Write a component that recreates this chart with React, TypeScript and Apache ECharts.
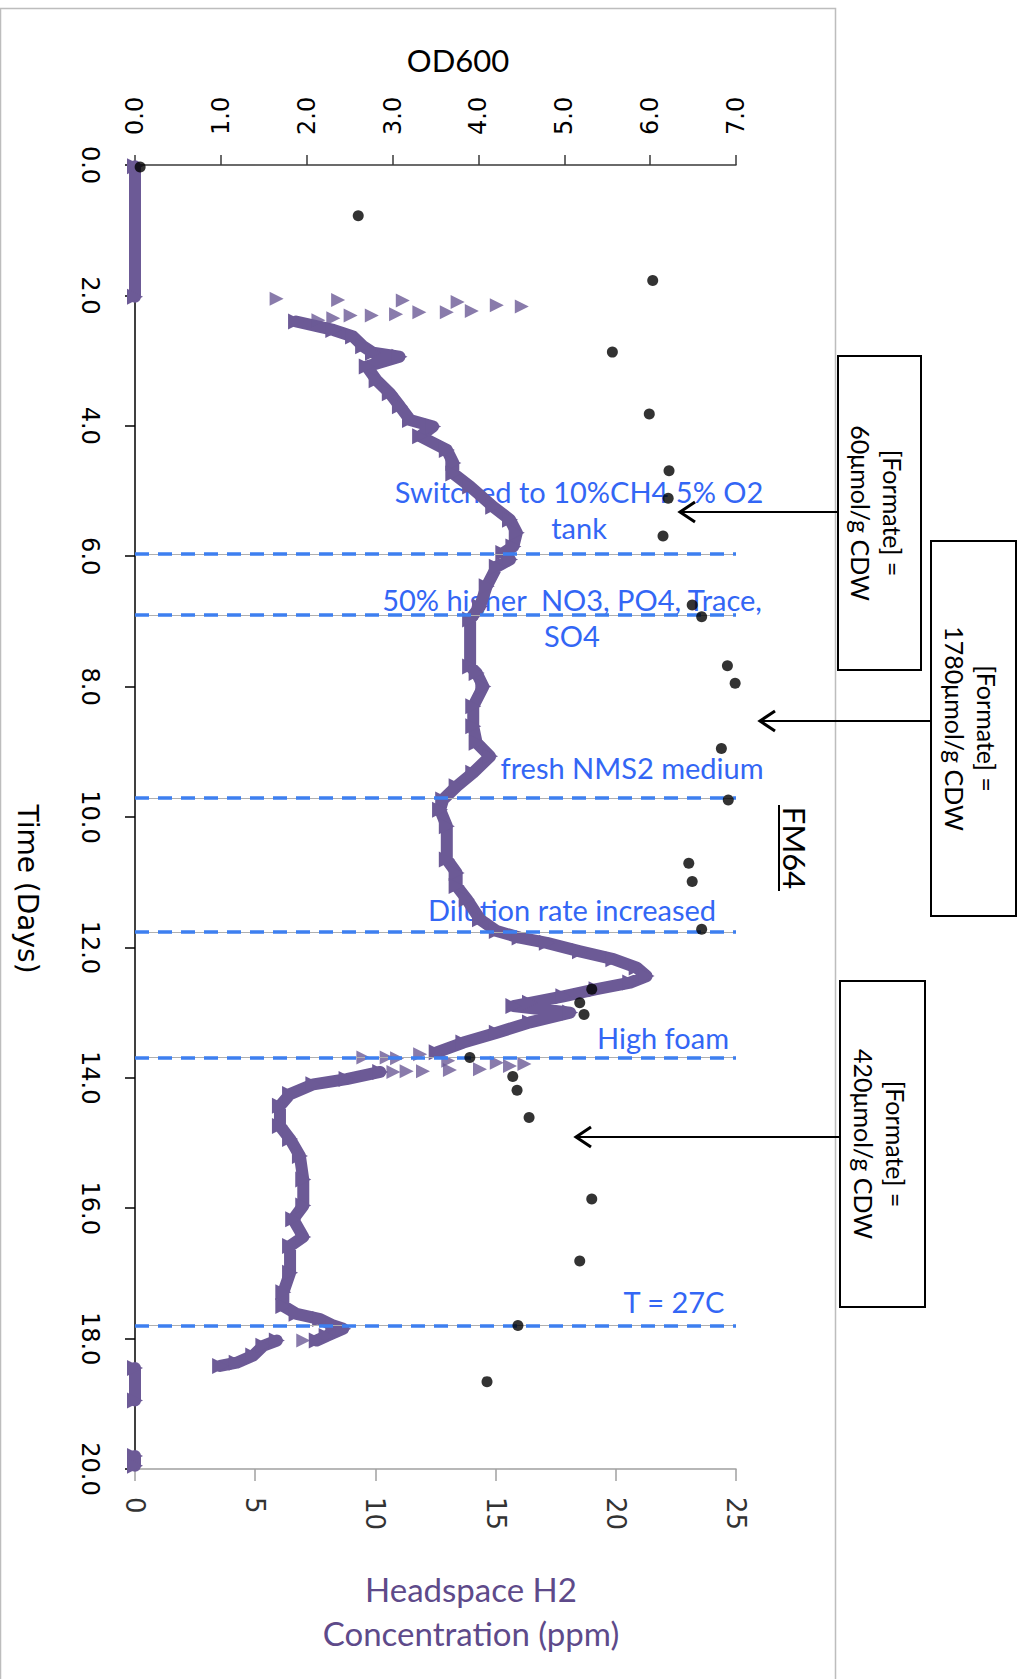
import React, { useEffect, useRef } from "react";
import * as echarts from "echarts";

// ---- OD600 samples (black dots) ----
const odDays = [0.03, 0.78, 1.77, 2.87, 3.82, 4.69, 5.11, 5.69, 6.75, 6.93, 7.68, 7.95, 8.95, 9.74, 10.71, 10.99, 11.72, 12.64, 12.85, 13.03, 13.69, 13.98, 14.19, 14.61, 15.86, 16.81, 17.8, 18.66];
const od600 = [0.06, 2.6, 6.03, 5.56, 5.99, 6.22, 6.21, 6.15, 6.49, 6.6, 6.9, 6.99, 6.83, 6.91, 6.45, 6.49, 6.6, 5.32, 5.18, 5.23, 3.9, 4.4, 4.45, 4.59, 5.32, 5.18, 4.46, 4.1];

// ---- Headspace H2 continuous trace (null = gap) ----
const h2Days = [
  0.02, 2.02, null,
  2.4, 2.53, 2.63, 2.78, 2.88, 2.94, 3.09, 3.3, 3.5, 3.7, 3.91, 4.01, 4.16, 4.37, 4.57, 4.73, 4.93, 5.24, 5.44, 5.64, 5.85, 5.95, 6.05, 6.16, 6.46, 6.77, 6.97, 7.69, 7.79, 8.0, 8.3, 8.61, 8.86, 9.07, 9.32, 9.53, 9.73, 9.89, 10.14, 10.65, 10.86, 11.06, 11.26, 11.57, 11.75, 11.85, 11.93, 12.06, 12.18, 12.31, 12.44, 12.54, 12.64, 12.75, 12.85, 12.9, 13.0, 13.15, 13.31, 13.46, 13.61, null,
  13.91, 14.02, 14.1, 14.25, 14.43, 14.74, 14.94, 15.2, 15.56, 15.96, 16.17, 16.44, 16.58, 16.99, 17.29, 17.5, 17.62, 17.7, 17.8, 17.85, 17.96, 18.03, null,
  18.03, 18.11, 18.26, 18.37, 18.42, null,
  18.45, 18.95, null,
  19.8, 19.95,
];
const h2Ppm = [
  0, 0, null,
  6.7, 8.25, 9.07, 9.49, 9.9, 11.0, 9.64, 10.05, 10.6, 11.02, 11.44, 12.4, 11.86, 12.97, 13.24, 13.24, 13.94, 14.9, 15.6, 15.88, 15.74, 15.32, 15.6, 15.05, 14.63, 14.35, 13.94, 13.94, 14.21, 14.49, 14.07, 14.07, 14.21, 14.77, 14.07, 13.38, 12.82, 12.69, 12.97, 12.97, 13.38, 13.38, 13.8, 14.35, 15.05, 16.0, 17.13, 18.51, 19.9, 20.87, 21.28, 20.6, 19.2, 17.82, 16.43, 15.74, 18.1, 16.43, 15.05, 13.66, 12.55, null,
  10.2, 8.8, 7.42, 6.45, 6.03, 6.03, 6.45, 6.86, 7.0, 7.0, 6.58, 7.0, 6.45, 6.45, 6.17, 6.17, 6.72, 7.7, 8.25, 8.66, 7.97, 7.56, null,
  5.9, 5.34, 4.92, 4.23, 3.54, null,
  0, 0, null,
  0, 0,
];

// ---- Headspace H2 scattered readings ----
const h2ScatterDays = [2.05, 2.07, 2.08, 2.1, 2.15, 2.17, 2.38, 2.35, 2.31, 2.31, 2.29, 2.26, 2.26, 2.24, 13.69, 13.69, 13.7, 13.64, 13.91, 13.9, 13.9, 13.88, 13.87, 13.77, 13.82, 13.79, 13.74, 18.03];
const h2ScatterPpm = [5.89, 8.45, 11.14, 13.42, 15.05, 16.09, 7.63, 8.25, 8.97, 9.85, 10.86, 11.83, 12.97, 14.01, 9.5, 10.47, 10.9, 11.86, 10.75, 11.3, 11.98, 13.1, 14.35, 15.05, 15.6, 16.2, 13.03, 7.0];

// ---- Event markers ----
const eventDays = [5.97, 6.9, 9.71, 11.76, 13.69, 17.8];
const eventLabels = [
  "Switched to 10%CH4 5% O2\ntank",
  "50% higher  NO3, PO4, Trace,\nSO4",
  "fresh NMS2 medium",
  "Dilution rate increased",
  "High foam",
  "T = 27C",
];
const formateLabels = [
  "[Formate] =\n60μmol/g CDW",
  "[Formate] =\n1780μmol/g CDW",
  "[Formate] =\n420μmol/g CDW",
];

const PURPLE = "#6C5A96";
const BLUE_TXT = "#3366F5";
const BLUE_DASH = "#3D7FF0";

export default function App() {
  const ref = useRef<HTMLDivElement>(null);
  useEffect(() => {
    if (!ref.current) return;
    const chart = echarts.init(ref.current, null, { renderer: "svg" });

    const traceData = h2Days.map((d, i) =>
      d === null || h2Ppm[i] === null ? ["-", "-"] : [h2Ppm[i], d]
    );
    const scatterData = h2ScatterDays.map((d, i) => [h2ScatterPpm[i], d]);
    const odData = odDays.map((d, i) => [od600[i], d]);

    const markData: any[] = [];
    eventDays.forEach((d) => {
      markData.push({ yAxis: d, lineStyle: { color: "#AFAFAF", width: 1, type: "solid" } });
      markData.push({ yAxis: d, lineStyle: { color: BLUE_DASH, width: 3.5, type: [14, 9] } });
    });

    const annPos = [
      [579, 509],
      [572, 617],
      [632, 767],
      [572, 909],
      [663, 1037],
      [674, 1301],
    ];
    const boxes = [
      [838, 356, 83, 314],
      [931, 541, 85, 375],
      [840, 981, 85, 326],
    ];
    const arrows = [
      [838, 680, 512],
      [931, 760, 721],
      [840, 576, 1137],
    ];

    const graphics: any[] = [
      {
        type: "rect",
        shape: { x: 0.5, y: 8.5, width: 835, height: 1700 },
        style: { fill: "none", stroke: "#BDBDBD", lineWidth: 1.5 },
        silent: true,
      },
      {
        type: "text",
        x: 458,
        y: 60,
        style: { text: "OD600", fill: "#000", fontSize: 31, fontFamily: "Lato", align: "center", verticalAlign: "middle" },
      },
      {
        type: "text",
        x: 27,
        y: 889,
        rotation: -Math.PI / 2,
        style: { text: "Time (Days)", fill: "#000", fontSize: 28, fontFamily: "DejaVu Sans", align: "center", verticalAlign: "middle" },
      },
      {
        type: "text",
        x: 471,
        y: 1611,
        style: {
          text: "Headspace H2\nConcentration (ppm)",
          fill: "#5E4A8A",
          fontSize: 33,
          lineHeight: 44,
          fontFamily: "Lato",
          align: "center",
          verticalAlign: "middle",
        },
      },
      {
        type: "text",
        x: 795,
        y: 848,
        rotation: -Math.PI / 2,
        style: { text: "FM64", fill: "#000", fontSize: 31, fontFamily: "Lato", align: "center", verticalAlign: "middle" },
      },
      {
        type: "line",
        shape: { x1: 779, y1: 805, x2: 779, y2: 891 },
        style: { stroke: "#000", lineWidth: 2 },
      },
    ];

    eventLabels.forEach((t, i) => {
      graphics.push({
        type: "text",
        x: annPos[i][0],
        y: annPos[i][1],
        style: {
          text: t,
          fill: BLUE_TXT,
          fontSize: 29,
          lineHeight: 36,
          fontFamily: "Lato",
          align: "center",
          verticalAlign: "middle",
        },
      });
    });

    boxes.forEach((b, i) => {
      graphics.push({
        type: "rect",
        shape: { x: b[0], y: b[1], width: b[2], height: b[3] },
        style: { fill: "#fff", stroke: "#000", lineWidth: 2 },
      });
      graphics.push({
        type: "text",
        x: b[0] + b[2] / 2 - 3,
        y: b[1] + b[3] / 2,
        rotation: -Math.PI / 2,
        style: {
          text: formateLabels[i],
          fill: "#000",
          fontSize: 25,
          lineHeight: 32,
          fontFamily: "Lato",
          align: "center",
          verticalAlign: "middle",
        },
      });
    });

    arrows.forEach((a) => {
      graphics.push({
        type: "line",
        shape: { x1: a[0], y1: a[2], x2: a[1], y2: a[2] },
        style: { stroke: "#000", lineWidth: 2 },
      });
      graphics.push({
        type: "polyline",
        shape: { points: [[a[1] + 15, a[2] - 10], [a[1], a[2]], [a[1] + 15, a[2] + 10]] },
        style: { stroke: "#000", lineWidth: 3, fill: "none" },
      });
    });

    chart.setOption({
      animation: false,
      backgroundColor: "#fff",
      grid: { left: 135, top: 165, width: 601, height: 1304, containLabel: false },
      xAxis: [
        {
          type: "value",
          position: "top",
          min: 0,
          max: 7,
          interval: 1,
          axisLine: { show: true, onZero: false, lineStyle: { color: "#3A3A3A", width: 1.5 } },
          axisTick: { show: true, length: 10, lineStyle: { color: "#3A3A3A", width: 1.5 } },
          axisLabel: {
            rotate: -90,
            margin: 30,
            formatter: (v: number) => v.toFixed(1),
            color: "#000",
            fontSize: 24,
            fontFamily: "DejaVu Sans",
          },
          splitLine: { show: false },
        },
        {
          type: "value",
          position: "bottom",
          min: 0,
          max: 25,
          interval: 5,
          axisLine: { show: true, onZero: false, lineStyle: { color: "#A0A0A0", width: 1.5 } },
          axisTick: { show: true, length: 12, lineStyle: { color: "#A0A0A0", width: 1.5 } },
          axisLabel: {
            rotate: -90,
            margin: 28,
            color: "#333",
            fontSize: 26,
            fontFamily: "DejaVu Sans",
          },
          splitLine: { show: false },
        },
      ],
      yAxis: {
        type: "value",
        inverse: true,
        min: 0,
        max: 20,
        interval: 2,
        axisLine: { show: true, onZero: false, lineStyle: { color: "#000", width: 1.5 } },
        axisTick: { show: true, length: 10, lineStyle: { color: "#000", width: 1.5 } },
        axisLabel: {
          rotate: -90,
          margin: 33,
          formatter: (v: number) => v.toFixed(1),
          color: "#000",
          fontSize: 24,
          fontFamily: "DejaVu Sans",
        },
        splitLine: { show: false },
      },
      graphic: { elements: graphics },
      series: [
        {
          name: "events",
          type: "scatter",
          xAxisIndex: 1,
          yAxisIndex: 0,
          data: [[0, 0]],
          symbolSize: 0,
          z: 1,
          silent: true,
          markLine: {
            silent: true,
            symbol: ["none", "none"],
            label: { show: false },
            data: markData,
          },
        },
        {
          name: "H2 scattered",
          type: "scatter",
          xAxisIndex: 1,
          yAxisIndex: 0,
          data: scatterData,
          symbol: "triangle",
          symbolSize: 14,
          symbolRotate: -90,
          itemStyle: { color: PURPLE },
          z: 3,
        },
        {
          name: "Headspace H2",
          type: "line",
          xAxisIndex: 1,
          yAxisIndex: 0,
          data: traceData,
          connectNulls: false,
          showSymbol: true,
          symbol: "triangle",
          symbolSize: 16,
          symbolRotate: -90,
          lineStyle: { color: PURPLE, width: 12, join: "round", cap: "round" },
          itemStyle: { color: PURPLE },
          z: 3,
        },
        {
          name: "OD600",
          type: "scatter",
          xAxisIndex: 0,
          yAxisIndex: 0,
          data: odData,
          symbol: "circle",
          symbolSize: 11,
          itemStyle: { color: "#000" },
          z: 5,
        },
      ],
    });
    return () => chart.dispose();
  }, []);

  return (
    <div
      ref={ref}
      style={{ position: "absolute", left: 0, top: 0, width: 1023, height: 1679, background: "#fff" }}
    />
  );
}
